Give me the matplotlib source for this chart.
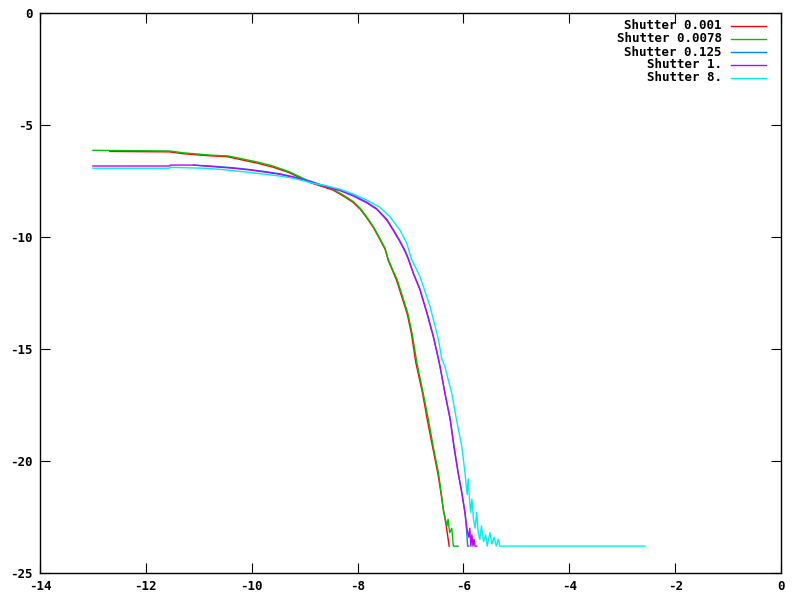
import matplotlib
matplotlib.use("Agg")
import matplotlib.pyplot as plt

# curves (log exposure vs log response)
labels = ["Shutter 0.001", "Shutter 0.0078", "Shutter 0.125", "Shutter 1.", "Shutter 8."]
colors = ["#ff0000", "#00c000", "#0080ff", "#c000ff", "#00eeee"]

x_001 = [-12.68, -11.55, -11.3, -11.05, -10.75, -10.45, -10.2, -9.9, -9.6, -9.3, -9.09,
         -8.9, -8.65, -8.46, -8.27, -8.08, -7.95, -7.83, -7.7, -7.58, -7.48, -7.42, -7.33,
         -7.26, -7.16, -7.06, -6.98, -6.9, -6.77, -6.68, -6.58, -6.48, -6.42, -6.37, -6.33,
         -6.3, -6.27]
y_001 = [-6.18, -6.2, -6.28, -6.33, -6.38, -6.42, -6.55, -6.7, -6.88, -7.12, -7.35,
         -7.57, -7.76, -7.91, -8.17, -8.46, -8.76, -9.13, -9.58, -10.1, -10.55, -11.05, -11.55,
         -11.95, -12.7, -13.45, -14.35, -15.6, -17.0, -18.2, -19.4, -20.6, -21.5, -22.3, -22.8,
         -23.3, -23.8]

x_0078 = [-13.0, -11.55, -11.3, -11.05, -10.75, -10.45, -10.2, -9.9, -9.6, -9.3, -9.09,
          -8.9, -8.65, -8.46, -8.27, -8.08, -7.95, -7.83, -7.7, -7.58, -7.48, -7.42, -7.33,
          -7.25, -7.15, -7.05, -6.97, -6.88, -6.76, -6.66, -6.57, -6.47, -6.41, -6.38, -6.35,
          -6.31, -6.29, -6.26, -6.22, -6.19, -6.1]
y_0078 = [-6.13, -6.16, -6.24, -6.29, -6.35, -6.38, -6.5, -6.65, -6.83, -7.08, -7.31,
          -7.53, -7.72, -7.87, -8.13, -8.42, -8.72, -9.09, -9.54, -10.06, -10.5, -11.0, -11.5,
          -11.92, -12.66, -13.41, -14.3, -15.6, -16.98, -18.17, -19.36, -20.55, -21.6, -22.2, -22.5,
          -22.9, -22.6, -23.2, -23.0, -23.8, -23.8]

x_125 = [-11.1, -10.73, -10.35, -10.03, -9.72, -9.47, -9.21, -8.9, -8.71, -8.33, -8.08,
         -7.83, -7.64, -7.45, -7.33, -7.2, -7.1, -7.04, -6.95, -6.82, -6.69, -6.57, -6.47,
         -6.35, -6.25, -6.18, -6.1, -6.03, -5.97, -5.94, -5.92, -5.9]
y_125 = [-6.79, -6.84, -6.91, -6.99, -7.09, -7.18, -7.31, -7.5, -7.65, -7.9, -8.14,
         -8.44, -8.73, -9.2, -9.65, -10.17, -10.62, -10.96, -11.6, -12.33, -13.37, -14.4, -15.45,
         -16.95, -18.1, -19.3, -20.5, -21.4, -22.3, -23.1, -23.8, -23.8]

x_1 = [-13.0, -11.55, -11.54, -11.1, -10.73, -10.35, -10.03, -9.72, -9.47, -9.21, -8.9,
       -8.71, -8.33, -8.08, -7.83, -7.64, -7.45, -7.33, -7.2, -7.1, -7.04, -6.95, -6.82,
       -6.69, -6.57, -6.47, -6.44, -6.35, -6.25, -6.18, -6.1, -6.03, -5.97, -5.93, -5.9,
       -5.88, -5.86, -5.84, -5.82, -5.8, -5.78, -5.75]
y_1 = [-6.83, -6.83, -6.79, -6.79, -6.86, -6.93, -7.01, -7.11, -7.2, -7.34, -7.53,
       -7.68, -7.93, -8.17, -8.47, -8.76, -9.24, -9.69, -10.21, -10.66, -11.0, -11.6, -12.37,
       -13.41, -14.45, -15.49, -15.79, -16.98, -18.17, -19.36, -20.55, -21.44, -22.34, -23.08, -23.4,
       -23.0, -23.8, -23.3, -23.8, -23.5, -23.8, -23.8]

x_8 = [-13.0, -11.55, -11.54, -10.91, -10.6, -10.35, -10.1, -9.78, -9.47, -9.21, -8.84,
       -8.58, -8.33, -8.08, -7.83, -7.58, -7.39, -7.2, -7.07, -6.98, -6.82, -6.63, -6.47,
       -6.41, -6.35, -6.22, -6.13, -6.03, -5.97, -5.93, -5.91, -5.88, -5.86, -5.84, -5.81,
       -5.78, -5.75, -5.72, -5.69, -5.66, -5.62, -5.58, -5.55, -5.5, -5.46, -5.42, -5.38,
       -5.34, -5.31, -2.57]
y_8 = [-6.93, -6.93, -6.89, -6.93, -6.98, -7.04, -7.1, -7.19, -7.28, -7.38, -7.6,
       -7.72, -7.87, -8.08, -8.35, -8.67, -9.09, -9.69, -10.28, -11.0, -11.77, -13.11, -14.6,
       -15.42, -15.79, -16.98, -18.17, -19.36, -20.55, -21.5, -20.8, -21.9, -22.3, -21.7, -22.6,
       -23.0, -22.3, -23.2, -23.5, -22.9, -23.6, -23.3, -23.8, -23.2, -23.7, -23.4, -23.8,
       -23.5, -23.8, -23.8]

xs = [x_001, x_0078, x_125, x_1, x_8]
ys = [y_001, y_0078, y_125, y_1, y_8]

plt.rcParams['font.family'] = ['DejaVu Sans Mono']
plt.rcParams['font.weight'] = 'bold'
plt.rcParams['axes.unicode_minus'] = False

fig = plt.figure(figsize=(8, 6), dpi=100)
ax = fig.add_axes([0.05, 0.045, 0.92625, 0.93333])

for x, y, c in zip(xs, ys, colors):
    ax.plot(x, y, color=c, lw=1.0)

ax.set_xlim(-14, 0)
ax.set_ylim(-25, 0)
ax.set_xticks(range(-14, 1, 2))
ax.set_yticks(range(-25, 1, 5))
ax.tick_params(direction='in', length=7, width=0.8, top=True, right=True,
               labelsize=9, pad=5)
for s in ax.spines.values():
    s.set_linewidth(1.0)

# key in the top right, text right-aligned with the sample line after it
row_y = [0.977, 0.954, 0.930, 0.908, 0.884]
for lab, c, ry in zip(labels, colors, row_y):
    ax.text(0.920, ry, lab, transform=ax.transAxes, ha='right', va='center',
            fontsize=9, fontweight='bold')
    ax.plot([0.9325, 0.980], [ry, ry], color=c, lw=1.0, transform=ax.transAxes)

fig.savefig("out.png", dpi=100)
